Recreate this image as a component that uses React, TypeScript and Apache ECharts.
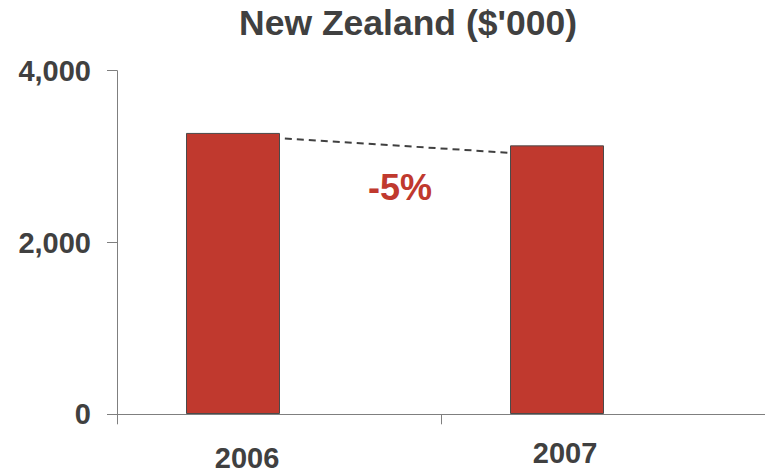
import React, { useEffect, useRef } from "react";
import * as echarts from "echarts";

const titleText = "New Zealand ($'000)";
const categories = ["2006", "2007"];
const values = [3275, 3130];
const yMin = 0;
const yMax = 4000;
const yInterval = 2000;
// dashed trend line: [position between categories, value]
const trendLine = [
  [0.16, 3210],
  [0.86, 3042],
];
const changeLabel = "-5%";

const FONT = "'Liberation Sans', Arial, sans-serif";
const TEXT = "#404040";
const RED = "#C0392E";
const AXIS = "#7f7f7f";

export default function App() {
  const ref = useRef<HTMLDivElement>(null);
  useEffect(() => {
    if (!ref.current) return;
    const chart = echarts.init(ref.current, undefined, { renderer: "svg" });
    const grid = { top: 70.7, bottom: 57.7 };
    chart.setOption({
      animation: false,
      backgroundColor: "#ffffff",
      title: {
        text: titleText,
        left: 403,
        textAlign: "center",
        top: 0,
        textStyle: { fontFamily: FONT, fontSize: 35.5, fontWeight: "bold", color: TEXT },
      },
      grid: [
        { left: 117, right: 0, ...grid },
        { left: 71, right: 46, ...grid },
      ],
      xAxis: [
        {
          gridIndex: 0,
          type: "category",
          data: categories,
          axisLine: { show: true, lineStyle: { color: AXIS, width: 1 } },
          axisTick: { show: true, length: 10, lineStyle: { color: AXIS, width: 1 } },
          axisLabel: { show: false },
          splitLine: { show: false },
        },
        {
          gridIndex: 1,
          type: "category",
          data: categories,
          axisLine: { show: false },
          axisTick: { show: false },
          splitLine: { show: false },
          axisLabel: {
            margin: 23,
            fontFamily: FONT,
            fontSize: 29,
            fontWeight: "bold",
            color: TEXT,
            formatter: (v: string, i: number) => (i === 0 ? `{a|${v}}` : `{b|${v}}`),
            rich: {
              a: { fontFamily: FONT, fontSize: 29, fontWeight: "bold", color: TEXT, padding: [6, 0, 0, 28] },
              b: { fontFamily: FONT, fontSize: 29, fontWeight: "bold", color: TEXT, padding: [1, 0, 0, 16] },
            },
          },
        },
        { gridIndex: 1, type: "value", min: -0.5, max: 1.5, show: false },
      ],
      yAxis: [
        {
          gridIndex: 0,
          type: "value",
          min: yMin,
          max: yMax,
          interval: yInterval,
          axisLine: { show: true, lineStyle: { color: AXIS, width: 1 } },
          axisTick: { show: true, length: 10, lineStyle: { color: AXIS, width: 1 } },
          splitLine: { show: false },
          axisLabel: {
            margin: 26,
            fontFamily: FONT,
            fontSize: 29,
            fontWeight: "bold",
            color: TEXT,
            formatter: (v: number) => v.toLocaleString("en-US"),
          },
        },
        { gridIndex: 1, type: "value", min: yMin, max: yMax, show: false },
      ],
      series: [
        {
          type: "bar",
          xAxisIndex: 1,
          yAxisIndex: 1,
          data: values,
          barWidth: 94,
          itemStyle: { color: RED, borderColor: "#4a4a4a", borderWidth: 1 },
        },
        {
          type: "line",
          xAxisIndex: 2,
          yAxisIndex: 1,
          data: trendLine,
          symbol: "none",
          lineStyle: { color: "#404040", width: 2, type: [7, 5] },
        },
      ],
      graphic: [
        {
          type: "text",
          x: 400,
          y: 187,
          style: {
            text: changeLabel,
            fill: RED,
            font: `bold 36px ${FONT}`,
            align: "center",
            verticalAlign: "middle",
          },
        },
      ],
    });
    return () => chart.dispose();
  }, []);
  return (
    <div
      ref={ref}
      style={{ position: "fixed", left: 0, top: 0, width: 765, height: 472 }}
    />
  );
}
